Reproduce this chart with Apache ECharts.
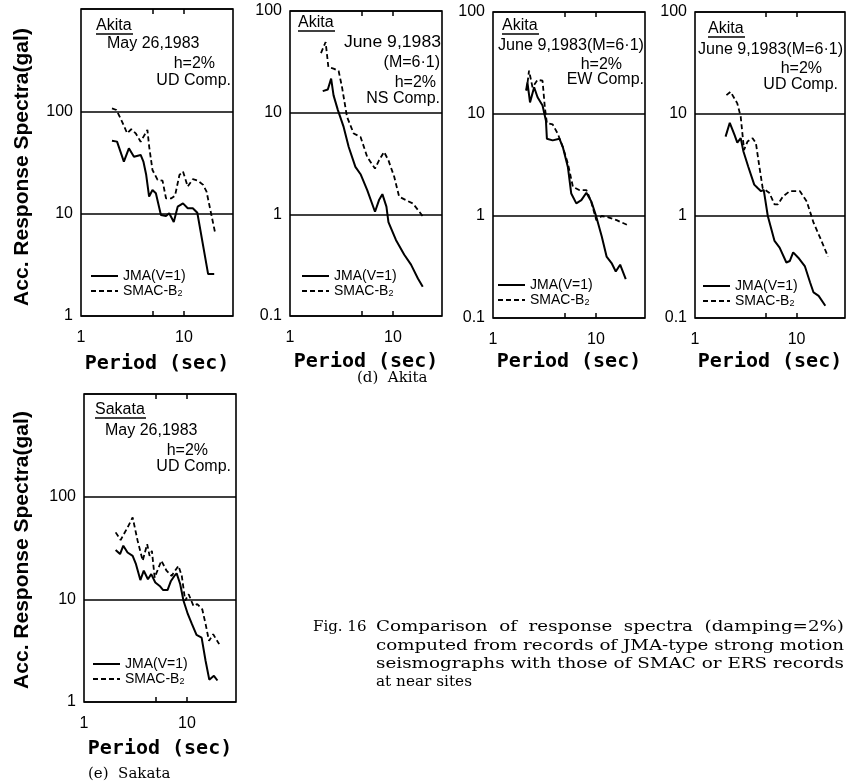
<!DOCTYPE html>
<html>
<head>
<meta charset="utf-8">
<script src="https://cdn.jsdelivr.net/npm/echarts@6/dist/echarts.min.js"></script>
<style>
html,body{margin:0;padding:0;background:#fff}
#c{width:847px;height:783px}
</style>
</head>
<body>
<div id="c"></div>
<script>
// Acceleration response spectra, h = 2 %, as [period (sec), acceleration (gal)]

// Akita, May 26, 1983, UD component
const akitaMayUD_JMA = [[2.0,51.7],[2.24,50.6],[2.61,32.2],[2.92,43.5],[3.27,36],[3.8,37.5],[4.05,32],[4.3,24],[4.59,14.7],[4.95,17],[5.34,15.8],[5.98,9.7],[6.7,9.5],[7.2,10.1],[7.97,8.3],[8.7,11.7],[9.8,12.6],[10.9,11.3],[12.2,11.3],[13.5,10.2],[17.2,2.57],[19.7,2.57]];
const akitaMayUD_SMAC = [[2.0,107],[2.21,103],[2.51,79],[2.81,61],[3.08,66.8],[3.4,61],[3.8,50.5],[4.42,65.8],[4.6,45],[4.95,26.7],[5.55,21.4],[6.2,21],[6.7,14.1],[7.5,14.1],[8.2,15],[9.05,23.9],[9.8,25.8],[10.9,18.4],[12.2,21.7],[13.7,21],[15.4,19.1],[16.6,16.4],[20,6.67]];

// Akita, June 9, 1983 (M=6.1), NS component
const akitaJunNS_JMA = [[2.08,16.3],[2.33,16.9],[2.51,21.6],[2.65,14.8],[2.92,10.6],[3.32,7.24],[3.72,4.6],[4.32,2.93],[4.85,2.48],[5.63,1.73],[6.7,1.06],[7.33,1.38],[7.9,1.58],[8.65,1.19],[9.05,0.84],[10.7,0.56],[12.9,0.40],[15,0.32],[17.5,0.234],[19.5,0.194]];
const akitaJunNS_SMAC = [[2.0,38.6],[2.22,49.5],[2.36,28],[2.65,27.1],[2.97,25.7],[3.2,17.9],[3.58,9.1],[4.16,6.24],[4.85,5.77],[5.63,3.67],[6.7,2.82],[7.33,3.4],[8.2,4.11],[9.05,3.4],[10.3,2.34],[11.5,1.49],[13.4,1.38],[15.6,1.28],[18.1,1.06],[19.9,0.93]];

// Akita, June 9, 1983 (M=6.1), EW component
const akitaJunEW_JMA = [[2.1,17],[2.16,20.4],[2.29,13],[2.51,18.3],[2.71,14.6],[3.03,12.1],[3.27,8.6],[3.34,5.73],[3.8,5.51],[4.42,5.73],[4.77,4.74],[5.34,3.03],[5.76,1.66],[6.45,1.33],[7.22,1.43],[8.08,1.69],[9.05,1.38],[10.1,0.98],[11.4,0.63],[12.7,0.40],[14.2,0.346],[15.6,0.286],[17.2,0.333],[19.5,0.24]];
const akitaJunEW_SMAC = [[2.12,17],[2.24,26.6],[2.42,18.3],[2.71,21.6],[3.03,21.2],[3.19,11.6],[3.34,8.13],[3.8,7.9],[4.26,6.4],[4.77,4.74],[5.34,3.27],[5.98,1.93],[6.95,1.79],[8.08,1.79],[8.9,1.43],[10.1,0.91],[11.4,1.0],[13.2,0.97],[15.9,0.91],[20,0.82]];

// Akita, June 9, 1983 (M=6.1), UD component
const akitaJunUD_JMA = [[2.0,6.0],[2.2,8.2],[2.45,6.24],[2.61,5.25],[2.82,5.8],[3.0,4.29],[3.34,3.06],[3.83,2.03],[4.14,1.88],[4.47,1.75],[4.75,1.8],[5.21,1.0],[6.07,0.57],[6.81,0.49],[7.94,0.35],[8.57,0.362],[9.26,0.44],[10.4,0.39],[12.1,0.32],[13.6,0.223],[14.7,0.178],[16.5,0.165],[19.2,0.132]];
const akitaJunUD_SMAC = [[2.04,15.3],[2.24,16.5],[2.61,12.7],[2.82,9.4],[3.04,4.45],[3.29,5.37],[3.69,5.8],[3.98,5.18],[4.3,3.06],[4.64,1.88],[5.41,1.68],[6.07,1.3],[6.56,1.3],[7.36,1.56],[8.57,1.75],[10.8,1.75],[12.6,1.39],[14.7,0.86],[17.1,0.61],[20.4,0.40]];

// Sakata, May 26, 1983, UD component
const sakataMayUD_JMA = [[2.03,30.2],[2.24,27.6],[2.41,33.3],[2.65,28.6],[2.97,26.5],[3.2,22],[3.53,15.4],[3.81,19],[4.18,15.7],[4.5,17.6],[4.93,14.6],[5.44,13.5],[5.88,12.3],[6.48,12.3],[7.0,15.1],[7.55,16.9],[7.95,17.9],[8.6,14.1],[9.27,9.7],[10.2,7.2],[11.2,5.73],[12.4,4.5],[13.9,4.24],[15.2,2.51],[16.5,1.65],[18.3,1.8],[19.8,1.62]];
const sakataMayUD_SMAC = [[2.03,44.9],[2.27,37.8],[2.65,50.1],[2.97,62.8],[3.32,37.2],[3.72,23.8],[4.11,34.5],[4.34,26.5],[4.57,29.7],[4.86,16.3],[5.65,23.8],[6.34,19],[7.1,16.9],[8.28,21.2],[8.92,16.9],[9.62,9.7],[10.4,11.2],[11.6,8.6],[12.6,9.0],[14.1,8.0],[15.2,5.73],[16.4,3.94],[18.0,4.57],[20.6,3.66]];

// axis ranges and labels
const periodRange = [1, 30];
const periodLabels = [1, 10];
const periodTicks = [5, 10];
const accRangeHigh = [1, 1000];
const accRangeLow = [0.1, 100];

const JMA = 'JMA(V=1)';
const SMAC = 'SMAC-B2';

const panels = [
  { grid: {left: 81,  top: 9,   width: 152, height: 307}, y: accRangeHigh, jma: akitaMayUD_JMA,  smac: akitaMayUD_SMAC,  legend: {left: 90,  top: 269} },
  { grid: {left: 290, top: 11,  width: 152, height: 305}, y: accRangeLow,  jma: akitaJunNS_JMA,  smac: akitaJunNS_SMAC,  legend: {left: 301, top: 269} },
  { grid: {left: 493, top: 12,  width: 152, height: 306}, y: accRangeLow,  jma: akitaJunEW_JMA,  smac: akitaJunEW_SMAC,  legend: {left: 497, top: 278} },
  { grid: {left: 695, top: 12,  width: 150, height: 306}, y: accRangeLow,  jma: akitaJunUD_JMA,  smac: akitaJunUD_SMAC,  legend: {left: 702, top: 279} },
  { grid: {left: 84,  top: 394, width: 152, height: 308}, y: accRangeHigh, jma: sakataMayUD_JMA, smac: sakataMayUD_SMAC, legend: {left: 92,  top: 657} }
];

const SANS = '"Liberation Sans", Arial, sans-serif';
const fmtNum = v => String(+(+v).toPrecision(3));

const grid = [], xAxis = [], yAxis = [], series = [], legend = [];
panels.forEach((p, i) => {
  grid.push(Object.assign({show: true, borderColor: '#000', borderWidth: 1.6, containLabel: false}, p.grid));
  xAxis.push({
    type: 'log', logBase: 10, gridIndex: i, min: periodRange[0], max: periodRange[1], position: 'bottom',
    axisLine: {show: false},
    axisTick: {show: true, inside: true, length: 5, customValues: periodTicks, lineStyle: {color: '#000', width: 1.5}},
    axisLabel: {show: true, customValues: periodLabels, margin: 14, color: '#000', fontSize: 16, fontFamily: SANS,
      formatter: v => (Math.abs(v - 1) < 1e-6 || Math.abs(v - 10) < 1e-6) ? fmtNum(v) : ''},
    splitLine: {show: false}
  });
  xAxis.push({
    type: 'log', logBase: 10, gridIndex: i, min: periodRange[0], max: periodRange[1], position: 'top',
    axisLine: {show: false},
    axisTick: {show: true, inside: true, length: 5, customValues: periodTicks, lineStyle: {color: '#000', width: 1.5}},
    axisLabel: {show: false}, splitLine: {show: false}
  });
  yAxis.push({
    type: 'log', logBase: 10, gridIndex: i, min: p.y[0], max: p.y[1],
    axisLine: {show: false}, axisTick: {show: false},
    axisLabel: {color: '#000', fontSize: 16, fontFamily: SANS, margin: 8,
      formatter: v => (v > 999) ? '' : fmtNum(v)},
    splitLine: {show: true, lineStyle: {color: '#000', width: 1.6}}
  });
  series.push({
    name: JMA, type: 'line', xAxisIndex: i * 2, yAxisIndex: i, data: p.jma, symbol: 'none',
    lineStyle: {color: '#000', width: 2, type: 'solid'}, itemStyle: {color: '#000'}, silent: true
  });
  series.push({
    name: SMAC, type: 'line', xAxisIndex: i * 2, yAxisIndex: i, data: p.smac, symbol: 'none',
    lineStyle: {color: '#000', width: 1.8, type: [5, 3]}, itemStyle: {color: '#000'}, silent: true
  });
  // legend keys are the plain line samples (no marker)
  legend.push({
    left: p.legend.left, top: p.legend.top, orient: 'vertical', padding: 0, itemGap: 1,
    itemWidth: 27, itemHeight: 14, selectedMode: false, data: [JMA, SMAC],
    itemStyle: {opacity: 0, color: 'rgba(0,0,0,0)', borderWidth: 0},
    formatter: n => n === SMAC ? '{t|SMAC-B}{s|2}' : '{t|' + n + '}',
    textStyle: {color: '#000', fontSize: 14, fontFamily: SANS,
      rich: {t: {fontSize: 14, fontFamily: SANS, color: '#000'},
             s: {fontSize: 9, fontFamily: SANS, color: '#000', padding: [6, 0, 0, 0]}}}
  });
});

// annotation text inside the frames and around the figure
const graphic = [];
const txt = (text, x, y, opt) => {
  const el = {
    type: 'text', x, y, silent: true,
    style: Object.assign({text, fill: '#000', font: '16px ' + SANS, textAlign: 'left', textVerticalAlign: 'middle'}, (opt && opt.style) || {})
  };
  if (opt && opt.rotation !== undefined) el.rotation = opt.rotation;
  if (opt && opt.scaleX !== undefined) el.scaleX = opt.scaleX;
  return el;
};
const underline = (x1, x2, y) => ({type: 'line', silent: true, shape: {x1, y1: y, x2, y2: y}, style: {stroke: '#000', lineWidth: 1.3}});

// stretch a line of text horizontally so it spans a given width
const measureCtx = document.createElement('canvas').getContext('2d');
const fitText = (text, x, y, width, font) => {
  measureCtx.font = font;
  const w = measureCtx.measureText(text).width;
  return txt(text, x, y, {scaleX: width / w, style: {font}});
};

// panel (1) Akita May 26 UD
graphic.push(txt('Akita', 96, 26), underline(96, 133, 34));
graphic.push(txt('May 26,1983', 107, 44));
graphic.push(txt('h=2%', 215, 64, {style: {textAlign: 'right'}}));
graphic.push(txt('UD Comp.', 231, 81, {style: {textAlign: 'right'}}));
// panel (2) Akita June 9 NS
graphic.push(txt('Akita', 298, 23), underline(298, 335, 31));
graphic.push(fitText('June 9,1983', 344, 43, 97, '16px ' + SANS));
graphic.push(txt('(M=6·1)', 440, 63, {style: {textAlign: 'right'}}));
graphic.push(txt('h=2%', 436, 83, {style: {textAlign: 'right'}}));
graphic.push(txt('NS Comp.', 440, 99, {style: {textAlign: 'right'}}));
// panel (3) Akita June 9 EW
graphic.push(txt('Akita', 502, 26), underline(502, 539, 34));
graphic.push(fitText('June 9,1983(M=6·1)', 498, 46, 146, '16px ' + SANS));
graphic.push(txt('h=2%', 622, 65, {style: {textAlign: 'right'}}));
graphic.push(txt('EW Comp.', 644, 80, {style: {textAlign: 'right'}}));
// panel (4) Akita June 9 UD
graphic.push(txt('Akita', 708, 29), underline(708, 745, 37));
graphic.push(fitText('June 9,1983(M=6·1)', 698, 50, 145, '16px ' + SANS));
graphic.push(txt('h=2%', 822, 69, {style: {textAlign: 'right'}}));
graphic.push(txt('UD Comp.', 838, 85, {style: {textAlign: 'right'}}));
// panel (5) Sakata May 26 UD
graphic.push(txt('Sakata', 95, 410), underline(95, 146, 418));
graphic.push(txt('May 26,1983', 105, 431));
graphic.push(txt('h=2%', 208, 451, {style: {textAlign: 'right'}}));
graphic.push(txt('UD Comp.', 231, 467, {style: {textAlign: 'right'}}));

// axis titles
const yTitleFont = 'bold 21px ' + SANS;
graphic.push(txt('Acc. Response Spectra(gal)', 22, 167, {rotation: Math.PI / 2, style: {font: yTitleFont, textAlign: 'center'}}));
graphic.push(txt('Acc. Response Spectra(gal)', 22, 550, {rotation: Math.PI / 2, style: {font: yTitleFont, textAlign: 'center'}}));
const xTitleFont = 'bold 20px "DejaVu Sans Mono", monospace';
[[157, 364], [366, 362], [569, 362], [770, 362], [160, 749]].forEach(([cx, cy]) => {
  graphic.push(txt('Period (sec)', cx, cy, {style: {font: xTitleFont, textAlign: 'center'}}));
});

// sub-figure captions and figure caption
const SERIF = '15px "DejaVu Serif", serif';
graphic.push(txt('(d)  Akita', 357, 378, {style: {font: SERIF}}));
graphic.push(txt('(e)  Sakata', 88, 774, {style: {font: SERIF}}));
graphic.push(txt('Fig. 16', 313, 627, {style: {font: SERIF}}));
graphic.push(fitText('Comparison  of  response  spectra  (damping=2%)', 376, 627, 468, SERIF));
graphic.push(fitText('computed from records of JMA-type strong motion', 376, 646, 468, SERIF));
graphic.push(fitText('seismographs with those of SMAC or ERS records', 376, 664, 468, SERIF));
graphic.push(fitText('at near sites', 376, 682, 96, SERIF));

const chart = echarts.init(document.getElementById('c'), null, {renderer: 'canvas'});
chart.setOption({
  animation: false,
  backgroundColor: '#fff',
  grid, xAxis, yAxis, series, legend, graphic
});
</script>
</body>
</html>
